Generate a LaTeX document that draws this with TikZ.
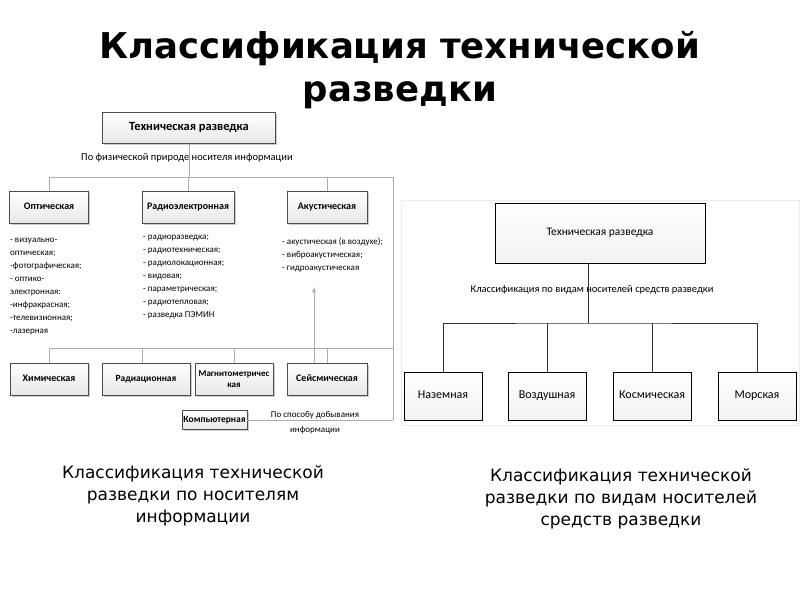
\documentclass[tikz,border=0pt]{standalone}
\usepackage{fontspec}
\setmainfont{Carlito}
\newfontfamily\dejavu{DejaVu Sans}
\usetikzlibrary{shadows,arrows.meta}
\begin{document}
\begin{tikzpicture}[x=1pt,y=-1pt,
  lbox/.style={draw=gray!60!black, line width=0.6pt, top color=white, bottom color=gray!18,
    drop shadow={shadow xshift=1.5pt,shadow yshift=-1.5pt,opacity=0.4},
    minimum height=32pt, inner sep=1pt, align=center,
    font=\bfseries\fontsize{10}{10.5}\selectfont},
  oneline/.style={text height=7pt, text depth=2.5pt},
  rbox/.style={draw=black, line width=0.7pt, top color=white, bottom color=gray!10,
    minimum width=78pt, minimum height=48pt, text height=8.5pt, text depth=3pt,
    font=\fontsize{12}{14}\selectfont},
  lline/.style={draw=gray!65, line width=0.9pt},
  rline/.style={draw=black!80, line width=0.8pt},
  listtxt/.style={anchor=north west, align=left, inner sep=0pt,
    font=\fontsize{9}{13}\selectfont},
  lbl/.style={inner sep=0pt, align=center}]
\fill[white] (0,0) rectangle (800,600);
\useasboundingbox (0,0) rectangle (800,600);

% title
\node[lbl, anchor=north, font=\dejavu\bfseries\fontsize{35.5}{43}\selectfont] (title) at (400,31)
  {Классификация технической\\разведки};

% ---------- left diagram ----------
\node[lbox, oneline, minimum width=173pt, minimum height=31pt, font=\bfseries\fontsize{12.5}{13}\selectfont] (t1) at (189,128) {Техническая разведка};
\coordinate (h1r) at (393,177);
\coordinate (h2r) at (393,348);
\coordinate (h3r) at (393,420);
\draw[lline] (t1.south) -- (t1.south |- h1r);
\node[lbl, font=\fontsize{10.5}{12}\selectfont] (l1) at (187,158) {По физической природе носителя информации};

\node[lbox, oneline, minimum width=79pt] (opt) at (49,207) {Оптическая};
\node[lbox, oneline, minimum width=92pt] (rad) at (188,207) {Радиоэлектронная};
\node[lbox, oneline, minimum width=80pt] (ac) at (327,207) {Акустическая};

\node[listtxt] (optl) at (10,238) {- визуально-\\оптическая;\\-фотографическая;\\- оптико-\\электронная:\\-инфракрасная;\\-телевизионная;\\-лазерная};
\node[listtxt] (radl) at (143,235) {- радиоразведка;\\- радиотехническая;\\- радиолокационная;\\- видовая;\\- параметрическая;\\- радиотепловая;\\- разведка ПЭМИН};
\node[listtxt] (acl) at (282,238) {- акустическая (в воздухе);\\- виброакустическая;\\- гидроакустическая};

\node[lbox, oneline, minimum width=78pt] (chem) at (49,379) {Химическая};
\node[lbox, oneline, minimum width=88pt, font=\bfseries\fontsize{9.5}{10}\selectfont] (radc) at (146,379) {Радиационная};
\node[lbox, minimum width=78pt, font=\bfseries\fontsize{9}{11}\selectfont] (mag) at (234,379) {Магнитометричес\\кая};
\node[lbox, oneline, minimum width=80pt] (seis) at (327,379) {Сейсмическая};
\node[lbox, oneline, minimum width=65pt, minimum height=19pt, font=\bfseries\fontsize{9.5}{10}\selectfont] (comp) at (214.5,420) {Компьютерная};

\draw[lline] (opt.north) |- (h1r) -- (h3r);
\draw[lline] (rad.north) -- (rad.north |- h1r);
\draw[lline] (ac.north) -- (ac.north |- h1r);
\draw[lline] (chem.north) |- (h2r);
\draw[lline] ([xshift=-4pt]radc.north) -- ([xshift=-4pt]radc.north |- h2r);
\draw[lline] (mag.north) -- (mag.north |- h2r);
\draw[lline] (seis.north) -- (seis.north |- h2r);
\draw[lline] (comp.east) -- (h3r);
\coordinate (arrtip) at (314,287);
\draw[lline, -{Stealth[length=6pt,width=4pt]}] (seis.north -| arrtip) -- (arrtip);
\node[lbl, font=\fontsize{9}{15}\selectfont] (l2) at (315,423) {По способу добывания\\информации};

% ---------- right diagram ----------
\draw[gray!15, line width=1pt] (401,200) rectangle (799,425);
\node[rbox, minimum width=210pt, minimum height=60pt, font=\fontsize{11.5}{13}\selectfont] (t2) at (600,233) {Техническая разведка};
\node[lbl, font=\fontsize{10.5}{12}\selectfont] (l3) at (592,290) {Классификация по видам носителей средств разведки};
\coordinate (v2) at (588,323);
\draw[rline] (t2.south -| v2) -- (v2);
\node[rbox] (naz) at (443,396) {Наземная};
\node[rbox] (voz) at (547,396) {Воздушная};
\node[rbox] (kos) at (652,396) {Космическая};
\node[rbox] (mor) at (757,396) {Морская};
\draw[rline] (naz.north) |- (v2) -| (mor.north);
\draw[rline] (voz.north) -- (voz.north |- v2);
\draw[rline] (kos.north) -- (kos.north |- v2);

% captions
\node[lbl, anchor=north, font=\dejavu\fontsize{17}{22}\selectfont] (cap1) at (193,465)
  {Классификация технической\\разведки по носителям\\информации};
\node[lbl, anchor=north, font=\dejavu\fontsize{17}{22}\selectfont] (cap2) at (621,468)
  {Классификация технической\\разведки по видам носителей\\средств разведки};
\end{tikzpicture}
\end{document}
